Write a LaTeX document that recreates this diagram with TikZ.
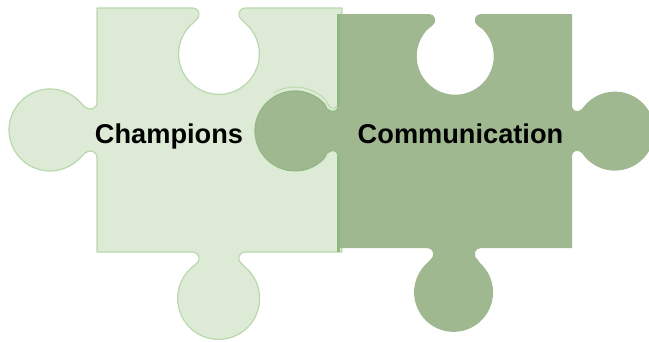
\documentclass[tikz,border=0pt]{standalone}
\usepackage{fontspec}
\setmainfont{Liberation Sans}
\definecolor{lightfill}{HTML}{DDEBD6}
\definecolor{lightrim}{HTML}{B9D8AC}
\definecolor{darkfill}{HTML}{A0B890}
\definecolor{darkrim}{HTML}{8FB780}
\tikzset{
  lightpiece/.style={fill=lightfill,draw=lightrim,line width=1.2pt,line join=round},
  darkpiece/.style={fill=darkfill,draw=none},
  darkedge/.style={draw=darkrim,line width=1.1pt,line join=round},
  seam/.style={draw=darkrim,line width=3.2pt},
  rimline/.style={draw=lightrim,line width=0.9pt},
  label/.style={font=\fontsize{27.2}{30}\selectfont\bfseries,text=black,inner sep=0pt,anchor=base}
}
\begin{document}
\begin{tikzpicture}[x=1pt,y=1pt,yscale=-1]
\useasboundingbox (0,0) rectangle (649,341);
% light piece
\draw[lightpiece] (97,8) -- (192,8)
  .. controls (199,8) and (202,15) .. (196,20)
  -- (193,23) arc[start angle=230,end angle=-50,radius=40.4pt]
  -- (242,20) .. controls (236,15) and (239,8) .. (246,8)
  -- (342,8) -- (342,252) -- (246,252)
  .. controls (239,252) and (236,259) .. (242,264)
  -- (245,267) arc[start angle=-50,end angle=230,radius=41pt]
  -- (196,264) .. controls (202,259) and (199,252) .. (192,252)
  -- (97,252) -- (97,158)
  .. controls (97,151) and (90,149) .. (85,153)
  -- (80.5,157.4) arc[start angle=42,end angle=318,radius=41pt]
  -- (85,107) .. controls (90,111) and (97,109) .. (97,102)
  -- cycle;
% rim left by the socket around the dark knob
\draw[rimline] (273.5,92.8) arc[start angle=240,end angle=316,radius=43pt]
  .. controls (330,110) and (335,110) .. (337,106);
% dark piece
\path[darkpiece] (338,14) -- (429,14)
  .. controls (435,14) and (438,21) .. (432,26)
  -- (428,29) arc[start angle=225,end angle=-45,radius=38.5pt]
  -- (478,26) .. controls (472,21) and (475,14) .. (481,14)
  -- (572,14) -- (572,106)
  .. controls (572,111) and (578,113) .. (582,109)
  -- (585.5,104.7) arc[start angle=222,end angle=498,radius=39.5pt]
  -- (582,153) .. controls (578,149) and (572,151) .. (572,156)
  -- (572,248) -- (481,248)
  .. controls (475,248) and (472,255) .. (478,260)
  -- (480,263) arc[start angle=-48,end angle=228,radius=39.5pt]
  -- (430,260) .. controls (436,255) and (433,248) .. (427,248)
  -- (338,248) -- (338,156)
  .. controls (338,150) and (332,149) .. (327,153)
  -- (324.7,157.8) arc[start angle=42,end angle=318,radius=40pt]
  -- (327,109) .. controls (332,113) and (338,112) .. (338,106)
  -- cycle;
% darker edge where the pieces meet
\draw[darkedge] (338,106)
  .. controls (338,112) and (332,113) .. (327,109)
  -- (324.7,104.2) arc[start angle=318,end angle=42,radius=40pt]
  -- (327,153) .. controls (332,149) and (338,150) .. (338,156);
\draw[seam] (338.6,14) -- (338.6,106);
\draw[seam] (338.6,156) -- (338.6,252);
\node[label] (champions) at (169,143) {Champions};
\node[label] (communication) at (460.5,143) {Communication};
\end{tikzpicture}
\end{document}
